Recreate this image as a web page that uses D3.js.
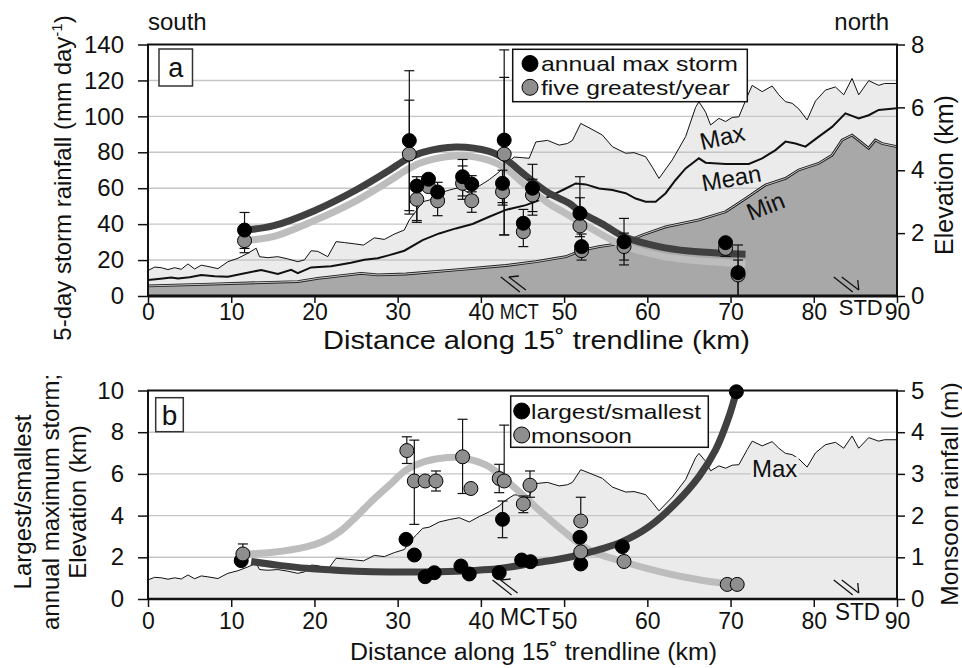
<!DOCTYPE html>
<html><head><meta charset="utf-8">
<script src="https://cdn.jsdelivr.net/npm/d3@7"></script>
<style>
body{margin:0;background:#fff}
svg{display:block}
text{font-family:"Liberation Sans",Arial,Helvetica,sans-serif;fill:#111}
</style>
</head><body>
<svg id="c" width="962" height="668"></svg>
<script>
// ---------------- DATA ----------------
const xTicks = [0,10,20,30,40,50,60,70,80,90];
const rainTicks = [0,20,40,60,80,100,120,140];
const elevTicks = [0,2,4,6,8];
const ratioTicks = [0,2,4,6,8,10];
const monsoonTicks = [0,1,2,3,4,5];

// elevation profiles along the swath [km, km elevation]
const maxProfile = [[0,0.81],[0.8,0.92],[1.6,0.9],[2.4,0.84],[3.2,0.9],[4.0,0.85],[4.8,1.02],[5.6,0.86],[6.4,0.98],[7.2,0.94],[8.4,0.87],[9.6,1.09],[10.8,1.2],[12.0,1.36],[13.0,1.52],[13.4,1.25],[14.4,1.22],[15.6,1.25],[16.8,1.18],[18.0,1.09],[18.8,1.15],[19.6,1.44],[20.4,1.42],[21.6,1.25],[22.6,1.73],[23.6,1.7],[24.8,1.66],[25.9,1.62],[27.2,1.85],[28.4,1.8],[29.6,1.97],[30.8,2.1],[31.4,2.42],[32.2,2.7],[33.0,3.0],[33.8,3.05],[35.0,3.27],[36.2,3.37],[37.4,3.45],[38.6,3.27],[39.8,3.5],[41.0,3.7],[42.2,3.95],[43.0,4.2],[44.0,4.42],[45.0,4.4],[45.8,4.38],[46.6,4.9],[48.0,4.95],[49.4,4.8],[50.4,4.85],[51.0,4.95],[52.0,5.49],[53.0,5.35],[54.6,5.12],[55.8,4.75],[57.4,4.54],[58.4,4.56],[59.8,4.43],[60.6,4.1],[61.4,3.74],[63.0,4.33],[64.6,5.07],[65.8,6.0],[66.2,6.18],[67.0,5.85],[67.6,5.44],[68.6,5.65],[69.4,5.55],[70.2,5.68],[71.0,5.7],[72.0,6.34],[72.6,6.7],[73.8,6.5],[75.0,6.68],[75.8,6.4],[76.6,6.18],[77.4,6.13],[78.2,5.95],[79.2,5.6],[80.2,6.2],[81.4,6.55],[82.6,6.65],[83.6,6.4],[84.6,6.92],[85.4,6.4],[86.6,6.85],[87.8,6.7],[88.5,6.76],[90,6.76]];
const meanProfile = [[0,0.51],[1.5,0.55],[2.8,0.59],[3.6,0.56],[5,0.6],[6.4,0.67],[8,0.63],[9.6,0.61],[11.2,0.7],[13.6,0.83],[15.6,0.7],[17.2,0.83],[18,0.73],[19.6,0.91],[22,0.95],[24.4,1.06],[26,1.15],[27.6,1.2],[29,1.3],[30.8,1.44],[33,1.78],[35,1.99],[37,2.15],[39,2.29],[41,2.52],[43,2.74],[45.4,2.89],[48.2,3.16],[50.2,3.42],[51.4,3.58],[52.6,3.55],[54.2,3.42],[55.8,3.37],[57.4,3.27],[58.6,3.1],[59.8,3.0],[61,3.0],[62.2,3.27],[63.4,3.69],[64.6,4.06],[66.2,4.38],[67,4.24],[69.4,4.2],[72.2,4.2],[73.8,4.38],[75.4,4.64],[76.6,4.91],[77.8,4.85],[79,4.75],[80.6,5.07],[82.2,5.38],[83.8,5.81],[85.4,5.65],[86.6,5.75],[87.8,5.92],[90,5.97]];
const minProfile = [[0,0.32],[7.6,0.38],[18,0.46],[20.4,0.56],[25.6,0.72],[27.6,0.67],[31,0.7],[37,0.83],[43,0.97],[46.6,1.09],[50.2,1.25],[52.2,1.46],[54.2,1.57],[57,1.68],[59.4,1.94],[62.2,2.2],[66.2,2.42],[69.4,2.68],[71.8,3.1],[74.2,3.53],[76.6,3.74],[78.2,4.01],[80.6,4.22],[82.2,4.48],[83.4,4.96],[84.6,5.12],[85.4,4.95],[86.6,4.7],[87.4,4.96],[88.2,4.85],[90,4.75]];

// panel a stations (mm/day)
const stationKmA   = [11.6,31.4,32.3,33.7,34.8,37.8,38.9,42.6,42.8,45.1,46.2,51.9,52.1,57.2,69.4,70.9];
const annualMax    = [36.7,86.5,61.2,65,57.9,66.4,62.3,62.7,86.8,40.5,60,46,27.5,30.2,29.7,13];
const annualMaxLo  = [26.5,45.6,41,65,52,55.7,56,50.6,34,36,45,40,23,20,24,0];
const annualMaxHi  = [46.5,125.4,66.4,65,63.3,76,67,70,137,48.2,73.3,66.4,34.5,43.2,31,28.4];
const fiveGreatest = [30.8,79,53.8,60.9,53,62.7,53,58,79,35.8,56.2,39,25.2,27.5,26.5,11.7];
const fiveLo       = [24.1,47.5,42,60.9,44.7,53.8,46.6,52,34,27.5,47,33,20,17.3,22,0];
const fiveHi       = [36,109,60,60.9,58,72.4,58,65,121.7,40,65,54.7,30,35,29,20];

// panel a fitted curves [km, mm/day]
const annualMaxFit = [[11.6,36.7],[15,39],[20,47.5],[25,59],[29,70],[31,76],[33,80],[37,83],[41,80.5],[43,76],[45,68.5],[47,61],[48.2,57.2],[50.6,51.6],[51.9,47],[55,39],[57.2,33],[61.4,27.5],[65,25],[69.4,23.7],[71.8,23.3]];
const fiveFit = [[11.6,31],[15,33],[20,42],[25,53],[29,64],[31,70],[33,74.5],[37,78],[41,75.5],[43,71],[45,63],[48,52],[50,46.5],[52,41],[55,33],[57.2,28],[61.4,22.5],[65,20],[69.4,18.5],[71.8,18]];

// panel b stations
const stationKmB   = [11.2,31.0,32.0,33.3,34.4,37.6,38.6,42.2,42.6,44.9,45.96,51.9,52.0,57.0,70.7];
const largestSmallest = [1.84,2.86,2.11,1.07,1.26,1.58,1.2,1.26,3.82,1.87,1.79,2.96,1.68,2.51,9.94];
const lsLo = [1.84,2.86,2.11,1.07,1.26,1.58,1.2,1.26,2.94,1.87,1.79,2.96,1.68,2.51,9.94];
const lsHi = [1.84,2.86,2.11,1.07,1.26,1.58,1.2,1.26,4.7,1.87,1.79,2.96,1.68,2.51,9.94];
const monsoonKm = [11.4,31.1,32.0,33.3,34.6,37.8,38.8,42.2,42.8,45.1,45.9,52.0,52.0,57.2,69.6,70.8];
const monsoon   = [1.08,3.56,2.83,2.83,2.83,3.41,2.65,2.89,2.83,2.28,2.73,1.87,1.13,0.9,0.35,0.35];
const monsoonLo = [1.08,3.25,1.79,2.83,2.59,2.53,2.65,2.55,2.83,2.07,2.44,1.87,1.13,0.9,0.35,0.35];
const monsoonHi = [1.32,3.89,3.81,2.83,3.07,4.31,2.65,3.23,4.17,2.47,3.07,2.44,1.13,0.9,0.35,0.35];

// panel b fitted curves
const lsFit = [[12.4,1.8],[16,1.6],[19,1.47],[23,1.37],[27,1.31],[31,1.29],[35,1.31],[39,1.37],[42,1.45],[46.2,1.71],[49,1.88],[51.8,2.11],[54.5,2.4],[57,2.75],[60.2,3.47],[63.4,4.59],[66.2,5.87],[68.2,7.15],[69.8,8.74],[70.7,9.94]];
const monsoonFit = [[11.8,1.08],[15,1.12],[19,1.25],[21,1.38],[23,1.61],[25,1.97],[27,2.37],[29,2.73],[31,3.09],[33,3.28],[35,3.37],[37,3.4],[39,3.33],[41,3.17],[43,2.85],[45,2.5],[47,2.13],[49.8,1.65],[53,1.18],[57,0.9],[62.2,0.62],[66.2,0.46],[69.8,0.36]];

// annotations
const profileLabelsA = [{t:"Max",km:69.0,v:5.06,rot:-13},{t:"Mean",km:70.1,v:3.75,rot:-10},{t:"Min",km:74.2,v:2.86,rot:-22}];
const faultsA = [{name:"MCT",km:42.4,type:"thrust"},{name:"STD",km:82.4,type:"normal"}];
const faultsB = [{name:"MCT",km:41.4,type:"thrust"},{name:"STD",km:82.4,type:"normal"}];

// ---------------- LAYOUT ----------------
const svg = d3.select('#c');
const X0 = 148, X1 = 897;
const x = d3.scaleLinear().domain([0,90]).range([X0,X1]);
const aTop = 44.5, aBot = 296;
const bTop = 390.5, bBot = 599;
const yRain = d3.scaleLinear().domain([0,140]).range([aBot,aTop]);
const yElev = d3.scaleLinear().domain([0,8]).range([aBot,aTop]);
const yRatio = d3.scaleLinear().domain([0,10]).range([bBot,bTop]);
const yMon = d3.scaleLinear().domain([0,5]).range([bBot,bTop]);
const yElevB = d3.scaleLinear().domain([0,8.85]).range([bBot,bTop]);

const LIGHT = "#ebebeb", DARK = "#a8a8a8", GRID = "#c6c6c6";
const CDARK = "#404040", CLIGHT = "#bdbdbd", PGRAY = "#8e8e8e";
const fmt = d3.format("d");
const smooth = d3.curveCatmullRom.alpha(0.5);

const defs = svg.append("defs");
defs.append("clipPath").attr("id","clipA").append("rect").attr("x",X0).attr("y",aTop).attr("width",X1-X0).attr("height",aBot-aTop);
defs.append("clipPath").attr("id","clipB").append("rect").attr("x",X0).attr("y",bTop).attr("width",X1-X0).attr("height",bBot-bTop);

function lineGen(ys, curve){ return d3.line().x(d=>x(d[0])).y(d=>ys(d[1])).curve(curve||d3.curveLinear); }
function areaGen(ys){ return d3.area().x(d=>x(d[0])).y0(ys(0)).y1(d=>ys(d[1])); }

function drawFault(g, px, py, type){
  const s = g.append("g").attr("transform",`translate(${px},${py})`).attr("fill","none").attr("stroke","#111").attr("stroke-width",1.3);
  s.append("line").attr("x1",0).attr("y1",-18).attr("x2",19).attr("y2",-3);
  s.append("line").attr("x1",8).attr("y1",-18).attr("x2",25).attr("y2",-5);
  if(type==="thrust") s.append("line").attr("x1",8).attr("y1",-18).attr("x2",18).attr("y2",-19);
  else s.append("line").attr("x1",25).attr("y1",-5).attr("x2",24).attr("y2",-15);
}

function errorBars(g, kms, vals, lo, hi, ys){
  const bg = g.append("g").attr("stroke","#111").attr("stroke-width",1.2);
  kms.forEach((k,i)=>{
    if(hi[i]===lo[i]) return;
    const px = x(k);
    bg.append("line").attr("x1",px).attr("x2",px).attr("y1",ys(lo[i])).attr("y2",ys(hi[i]));
    [lo[i],hi[i]].forEach(v=>{ if(v!==vals[i]) bg.append("line").attr("x1",px-5).attr("x2",px+5).attr("y1",ys(v)).attr("y2",ys(v)); });
  });
}
function points(g, kms, vals, ys, fill){
  g.append("g").selectAll("circle").data(kms).join("circle")
    .attr("cx",d=>x(d)).attr("cy",(d,i)=>ys(vals[i])).attr("r",7)
    .attr("fill",fill).attr("stroke","#000").attr("stroke-width",1);
}
function styleAxis(g, fs){
  g.select(".domain").remove();
  g.selectAll(".tick line").attr("stroke","#111").attr("stroke-width",1.5);
  g.selectAll(".tick text").attr("font-size",fs).attr("fill","#111").attr("font-family",'"Liberation Sans",Arial,sans-serif');
}
function legendText(g, px, py, t, w){
  g.append("text").attr("x",px).attr("y",py).attr("font-size",21).attr("textLength",w).attr("lengthAdjust","spacingAndGlyphs").text(t);
}

// ---------------- PANEL A ----------------
const ga = svg.append("g");
const pa = ga.append("g").attr("clip-path","url(#clipA)");
pa.append("path").datum(maxProfile).attr("d",areaGen(yElev)).attr("fill",LIGHT);
pa.append("g").selectAll("line").data(rainTicks.filter(t=>t>0&&t<140)).join("line")
  .attr("x1",X0).attr("x2",X1).attr("y1",d=>yRain(d)).attr("y2",d=>yRain(d)).attr("stroke",GRID).attr("stroke-width",1.4);
pa.append("path").datum(minProfile).attr("d",areaGen(yElev)).attr("fill",DARK);
pa.append("path").datum(maxProfile).attr("d",lineGen(yElev)).attr("fill","none").attr("stroke","#111").attr("stroke-width",1);
pa.append("path").datum(meanProfile).attr("d",lineGen(yElev)).attr("fill","none").attr("stroke","#111").attr("stroke-width",2);
pa.append("path").datum(minProfile).attr("d",lineGen(yElev)).attr("fill","none").attr("stroke","#222").attr("stroke-width",2.8);
pa.append("path").datum(minProfile).attr("d",lineGen(yElev)).attr("fill","none").attr("stroke","#d8d8d8").attr("stroke-width",0.9);
profileLabelsA.forEach(l=>{
  ga.append("text").attr("transform",`translate(${x(l.km)},${yElev(l.v)}) rotate(${l.rot})`)
    .attr("text-anchor","middle").attr("dy","0.35em").attr("font-size",24).text(l.t);
});
faultsA.forEach(f=>drawFault(ga, x(f.km), aBot-1, f.type));
pa.append("path").datum(fiveFit).attr("d",lineGen(yRain,smooth)).attr("fill","none").attr("stroke",CLIGHT).attr("stroke-width",7);
pa.append("path").datum(annualMaxFit).attr("d",lineGen(yRain,smooth)).attr("fill","none").attr("stroke",CDARK).attr("stroke-width",7);
errorBars(ga, stationKmA, fiveGreatest, fiveLo, fiveHi, yRain);
errorBars(ga, stationKmA, annualMax, annualMaxLo, annualMaxHi, yRain);
points(ga, stationKmA, fiveGreatest, yRain, PGRAY);
points(ga, stationKmA, annualMax, yRain, "#000");
ga.append("rect").attr("x",X0).attr("y",aTop).attr("width",X1-X0).attr("height",aBot-aTop).attr("fill","none").attr("stroke","#111").attr("stroke-width",2);
ga.append("line").attr("x1",X0).attr("x2",X1).attr("y1",aBot).attr("y2",aBot).attr("stroke","#111").attr("stroke-width",3);

styleAxis(ga.append("g").attr("transform",`translate(${X0},0)`).call(d3.axisLeft(yRain).tickValues(rainTicks).tickFormat(fmt).tickSize(10).tickPadding(14)),24);
styleAxis(ga.append("g").attr("transform",`translate(${X1},0)`).call(d3.axisRight(yElev).tickValues(elevTicks).tickFormat(fmt).tickSize(8).tickPadding(6)),24);
styleAxis(ga.append("g").attr("transform",`translate(0,${aBot})`).call(d3.axisBottom(x).tickValues(xTicks).tickFormat(fmt).tickSize(7).tickPadding(1)),23);

// fault names panel a
ga.append("text").attr("x",x(faultsA[0].km)-1).attr("y",319).attr("font-size",22).attr("textLength",39).attr("lengthAdjust","spacingAndGlyphs").text(faultsA[0].name);
ga.append("text").attr("x",x(faultsA[1].km)+5).attr("y",315).attr("font-size",22).attr("textLength",44).attr("lengthAdjust","spacingAndGlyphs").text(faultsA[1].name);

// panel label a
ga.append("rect").attr("x",159).attr("y",49).attr("width",33.5).attr("height",37).attr("fill","#fff").attr("stroke","#333").attr("stroke-width",1.5);
ga.append("text").attr("x",175.7).attr("y",77).attr("text-anchor","middle").attr("font-size",27).text("a");

// legend a
ga.append("rect").attr("x",512.7).attr("y",49.3).attr("width",234.6).attr("height",52.4).attr("fill","#fff").attr("stroke","#111").attr("stroke-width",1.5);
ga.append("circle").attr("cx",530).attr("cy",63.5).attr("r",8).attr("fill","#000").attr("stroke","#000");
ga.append("circle").attr("cx",530).attr("cy",87.3).attr("r",8).attr("fill",PGRAY).attr("stroke","#000");
legendText(ga, 541, 71, "annual max storm", 197);
legendText(ga, 541, 94.5, "five greatest/year", 189);

// titles panel a
ga.append("text").attr("x",148).attr("y",30).attr("font-size",24).text("south");
ga.append("text").attr("x",889).attr("y",30).attr("font-size",24).attr("text-anchor","end").text("north");
const yla = ga.append("text").attr("transform","translate(71,178) rotate(-90)").attr("text-anchor","middle").attr("font-size",24);
yla.append("tspan").text("5-day storm rainfall (mm day");
yla.append("tspan").attr("font-size",15).attr("dy",-9).text("-1");
yla.append("tspan").attr("font-size",24).attr("dy",9).text(")");
ga.append("text").attr("transform","translate(953,175) rotate(-90)").attr("text-anchor","middle").attr("font-size",25).text("Elevation (km)");
ga.append("text").attr("x",536.5).attr("y",349).attr("text-anchor","middle").attr("font-size",25).attr("textLength",427).attr("lengthAdjust","spacingAndGlyphs").text("Distance along 15˚ trendline (km)");

// ---------------- PANEL B ----------------
const gb = svg.append("g");
const pb = gb.append("g").attr("clip-path","url(#clipB)");
pb.append("path").datum(maxProfile).attr("d",areaGen(yElevB)).attr("fill",LIGHT);
pb.append("g").selectAll("line").data(ratioTicks.filter(t=>t>0&&t<10)).join("line")
  .attr("x1",X0).attr("x2",X1).attr("y1",d=>yRatio(d)).attr("y2",d=>yRatio(d)).attr("stroke",GRID).attr("stroke-width",1.4);
pb.append("path").datum(maxProfile).attr("d",lineGen(yElevB)).attr("fill","none").attr("stroke","#111").attr("stroke-width",1);
const maxLabB = {km:75.3, v:6.28};
gb.append("rect").attr("x",x(maxLabB.km)-24).attr("y",yRatio(maxLabB.v)-11).attr("width",48).attr("height",22).attr("fill",LIGHT);
gb.append("text").attr("x",x(maxLabB.km)).attr("y",yRatio(maxLabB.v)).attr("dy","0.36em").attr("text-anchor","middle").attr("font-size",24).text("Max");
faultsB.forEach(f=>drawFault(gb, x(f.km), bBot-1, f.type));
pb.append("path").datum(monsoonFit).attr("d",lineGen(yMon,smooth)).attr("fill","none").attr("stroke",CLIGHT).attr("stroke-width",7);
pb.append("path").datum(lsFit).attr("d",lineGen(yRatio,smooth)).attr("fill","none").attr("stroke",CDARK).attr("stroke-width",7);
errorBars(gb, stationKmB, largestSmallest, lsLo, lsHi, yRatio);
errorBars(gb, monsoonKm, monsoon, monsoonLo, monsoonHi, yMon);
points(gb, stationKmB, largestSmallest, yRatio, "#000");
points(gb, monsoonKm, monsoon, yMon, PGRAY);
gb.append("rect").attr("x",X0).attr("y",bTop).attr("width",X1-X0).attr("height",bBot-bTop).attr("fill","none").attr("stroke","#111").attr("stroke-width",2);
gb.append("line").attr("x1",X0).attr("x2",X1).attr("y1",bBot).attr("y2",bBot).attr("stroke","#111").attr("stroke-width",2.5);

styleAxis(gb.append("g").attr("transform",`translate(${X0},0)`).call(d3.axisLeft(yRatio).tickValues(ratioTicks).tickFormat(fmt).tickSize(10).tickPadding(14)),24);
styleAxis(gb.append("g").attr("transform",`translate(${X1},0)`).call(d3.axisRight(yMon).tickValues(monsoonTicks).tickFormat(fmt).tickSize(8).tickPadding(6)),24);
styleAxis(gb.append("g").attr("transform",`translate(0,${bBot})`).call(d3.axisBottom(x).tickValues(xTicks).tickFormat(fmt).tickSize(8).tickPadding(6)),23);

gb.append("text").attr("x",500).attr("y",625).attr("font-size",24).attr("textLength",50).attr("lengthAdjust","spacingAndGlyphs").text(faultsB[0].name);
gb.append("text").attr("x",835).attr("y",620).attr("font-size",23).attr("textLength",45).attr("lengthAdjust","spacingAndGlyphs").text(faultsB[1].name);

gb.append("rect").attr("x",155.7).attr("y",397.7).attr("width",27.6).attr("height",34).attr("fill","#fff").attr("stroke","#333").attr("stroke-width",1.5);
gb.append("text").attr("x",169.5).attr("y",424.5).attr("text-anchor","middle").attr("font-size",28).text("b");

gb.append("rect").attr("x",510.7).attr("y",396).attr("width",197.6).attr("height",51.3).attr("fill","#fff").attr("stroke","#111").attr("stroke-width",1.5);
gb.append("circle").attr("cx",521.7).attr("cy",411).attr("r",8).attr("fill","#000").attr("stroke","#000");
gb.append("circle").attr("cx",521.7).attr("cy",435).attr("r",8).attr("fill",PGRAY).attr("stroke","#000");
legendText(gb, 531, 419, "largest/smallest", 170);
legendText(gb, 531, 443, "monsoon", 101);

const ylb = gb.append("text").attr("transform","translate(0,502) rotate(-90)").attr("text-anchor","middle").attr("font-size",24);
[["Largest/smallest",31],["annual maximum storm;",59],["Elevation (km)",86]].forEach(([t,bx])=>{
  ylb.append("tspan").attr("x",0).attr("y",bx).text(t);
});
gb.append("text").attr("transform","translate(958,494) rotate(-90)").attr("text-anchor","middle").attr("font-size",24.5).text("Monsoon rainfall (m)");
gb.append("text").attr("x",533.5).attr("y",660).attr("text-anchor","middle").attr("font-size",23.5).attr("textLength",367).attr("lengthAdjust","spacingAndGlyphs").text("Distance along 15˚ trendline (km)");
</script>
</body></html>
